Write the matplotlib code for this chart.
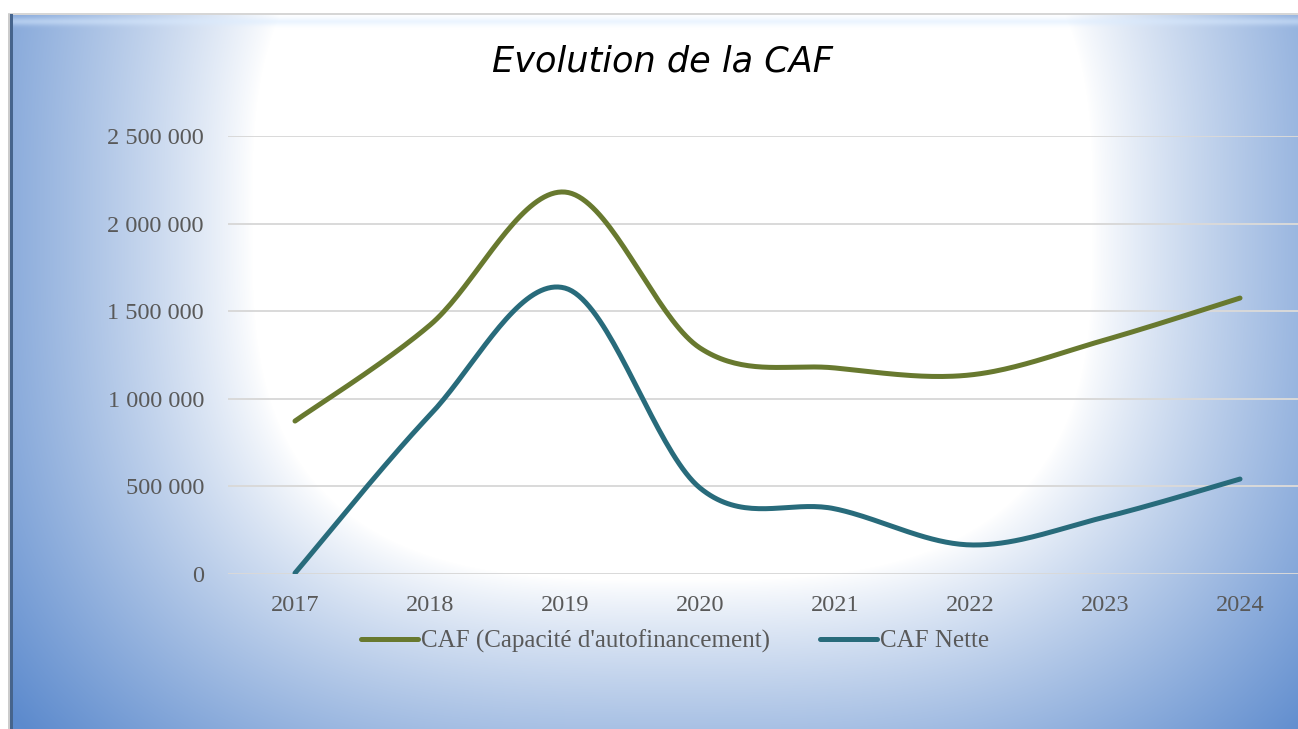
import matplotlib
matplotlib.use("Agg")
import matplotlib.pyplot as plt
import numpy as np

# data
years = ["2017", "2018", "2019", "2020", "2021", "2022", "2023", "2024"]
caf = [873000, 1421000, 2180000, 1290000, 1176000, 1136000, 1336000, 1575000]
caf_nette = [5000, 908000, 1632000, 491000, 372000, 166000, 325000, 542000]
yticks = [0, 500000, 1000000, 1500000, 2000000, 2500000]

W, H = 1298, 729


def smooth(xs, ys, n=40):
    # excel-like smoothed line (catmull-rom through the points)
    p = np.column_stack([xs, ys]).astype(float)
    p = np.vstack([p[0], p, p[-1]])
    out = []
    for i in range(1, len(p) - 2):
        p0, p3 = p[i], p[i + 1]
        p1 = p0 + (p[i + 1] - p[i - 1]) / 6.0
        p2 = p3 - (p[i + 2] - p[i]) / 6.0
        t = np.linspace(0, 1, n)[:, None]
        seg = (1 - t) ** 3 * p0 + 3 * (1 - t) ** 2 * t * p1 + 3 * (1 - t) * t ** 2 * p2 + t ** 3 * p3
        out.append(seg if i == 1 else seg[1:])
    out = np.vstack(out)
    return out[:, 0], out[:, 1]


def background():
    yy, xx = np.mgrid[0:H, 0:W].astype(float)
    dx = np.abs(xx - 672) / 700
    dy = np.abs(yy - 220) / 600
    t = (dx ** 3 + dy ** 3) ** (1 / 3)
    s = np.clip((t - 0.6) / 0.52, 0, 1) ** 0.85
    white = np.array([1.0, 1.0, 1.0])
    blue = np.array([92, 138, 205]) / 255.0
    img = white * (1 - s[..., None]) + blue * s[..., None]
    # frame: white outside, gray top border, darker left bevel
    img[:14, :] = 1.0
    img[:, :8] = 1.0
    img[13:15, 8:] = np.array([0.84, 0.84, 0.84])
    img[14:, 8:10] = np.array([0.80, 0.80, 0.80])
    img[14:, 10:13] = np.array([70, 100, 140]) / 255.0
    # top bevel highlight
    band = np.exp(-((yy[15:30, 13:] - 21) / 4.0) ** 2)
    img[15:30, 13:] = img[15:30, 13:] * (1 - 0.5 * band[..., None]) + 0.5 * band[..., None] * np.array([0.85, 0.92, 1.0])
    return img


fig = plt.figure(figsize=(W / 100, H / 100), dpi=100)
fig.figimage(background(), xo=0, yo=0, origin="upper", zorder=-10)

ax = fig.add_axes([227.5 / W, (H - 574) / H, 1080 / W, (574 - 136) / H])
ax.set_facecolor("none")

x = np.arange(len(years))
sx, sy = smooth(x, caf)
l1, = ax.plot(sx, sy, color="#68792f", lw=3.6, solid_capstyle="round", label="CAF (Capacité d'autofinancement)", zorder=3)
sx, sy = smooth(x, caf_nette)
l2, = ax.plot(sx, sy, color="#286b7b", lw=3.6, solid_capstyle="round", label="CAF Nette", zorder=3)

ax.set_xlim(-0.5, len(years) - 0.5)
ax.set_ylim(0, 2500000)
ax.set_yticks(yticks)
ax.set_yticklabels([f"{v:,}".replace(",", " ") for v in yticks])
ax.set_xticks(x)
ax.set_xticklabels(years)
ax.grid(axis="y", color="#d9d9d9", lw=1.4, zorder=1)
ax.set_axisbelow(True)
for sp in ax.spines.values():
    sp.set_visible(False)
ax.tick_params(length=0, labelsize=17.5, labelcolor="#595959")
ax.tick_params(axis="y", pad=17)
ax.tick_params(axis="x", pad=15)
for lab in ax.get_xticklabels() + ax.get_yticklabels():
    lab.set_family("Liberation Serif")

fig.text(662 / W, 1 - 62 / H, "Evolution de la CAF", ha="center", va="center",
         fontsize=25.3, style="italic", family="DejaVu Sans", color="black")

fig.legend(handles=[l1, l2], loc="center", bbox_to_anchor=(675 / W, 1 - 641 / H), ncol=2,
           frameon=False, prop={"family": "Liberation Serif", "size": 18}, labelcolor="#595959",
           handlelength=2.3, handletextpad=0.1, columnspacing=2.0)

fig.savefig("out.png", dpi=100)
